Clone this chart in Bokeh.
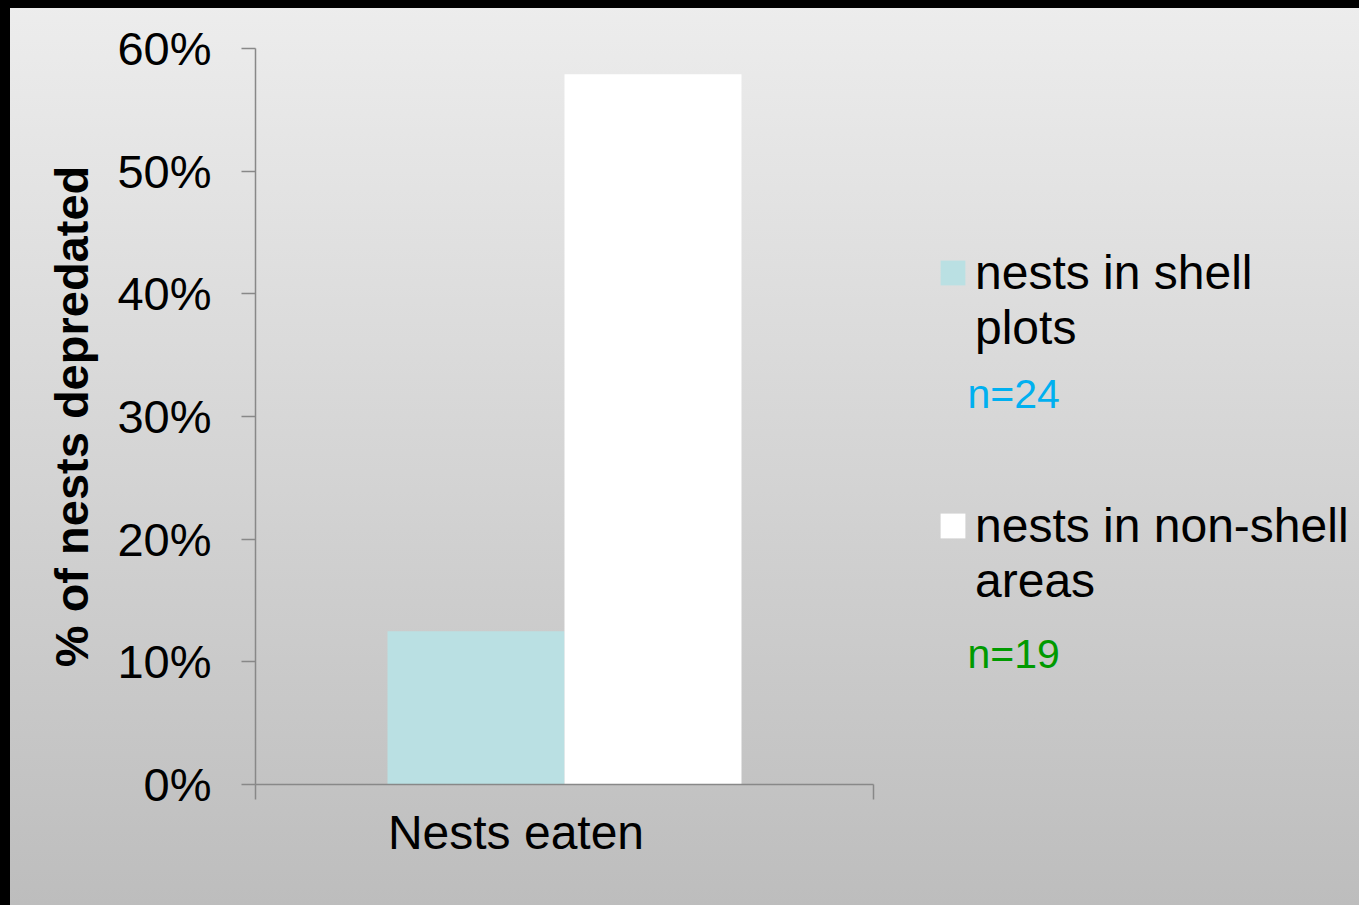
from bokeh.plotting import figure
from bokeh.models import (Range1d, LinearAxis, FixedTicker,
                          NumeralTickFormatter, Legend, LegendItem, Label, ColumnDataSource)
from bokeh.embed import file_html
from bokeh.resources import INLINE

# ---- data ----
categories = ["Nests eaten"]
shell_plots = [0.125]        # 3 of 24 nests
non_shell_areas = [0.579]    # 11 of 19 nests
series_labels = ["nests in shell\nplots", "nests in non-shell\nareas"]
n_labels = ["n=24", "n=19"]
y_ticks = [0.0, 0.1, 0.2, 0.3, 0.4, 0.5, 0.6]

FONT = "Liberation Sans"
W, H = 1359, 905
FL, FR, FT, FB = 255, 873, 48, 784
CAT_W = FR - FL                    # pixel width of one category slot
X_END = (W - FL) / CAT_W           # frame extends to the right edge (legend area)

bw = 0.2864
centers = [i + 0.5 for i in range(len(categories))]
src = ColumnDataSource(dict(xs=[c - bw / 2 for c in centers], xn=[c + bw / 2 for c in centers],
                            shell=shell_plots, nonshell=non_shell_areas))

p = figure(width=W, height=H, x_range=Range1d(0, X_END),
           y_range=Range1d(0, 0.6), output_backend="svg", toolbar_location=None,
           x_axis_location=None, y_axis_location=None,
           min_border_left=FL, min_border_right=0, min_border_top=FT, min_border_bottom=H - FB)
p.background_fill_color = None
p.border_fill_color = None
p.outline_line_color = None
p.xgrid.visible = False
p.ygrid.visible = False
p.styles = {"background": "linear-gradient(to bottom, #000 0px, #000 8px, transparent 8px), "
                          "linear-gradient(to right, #000 0px, #000 10px, transparent 10px), "
                          "linear-gradient(to bottom, #ededed 0%, #bdbdbd 100%)"}

r1 = p.vbar(x="xs", top="shell", width=bw, source=src, fill_color="#bae0e3", line_color=None)
r2 = p.vbar(x="xn", top="nonshell", width=bw, source=src, fill_color="#ffffff", line_color=None)

AX = "#888888"
yax = LinearAxis(ticker=FixedTicker(ticks=y_ticks), formatter=NumeralTickFormatter(format="0%"),
                 axis_label="% of nests depredated")
yax.axis_line_color = AX
yax.axis_line_width = 1.5
yax.major_tick_line_color = AX
yax.major_tick_line_width = 1.5
yax.major_tick_out = 14
yax.major_tick_in = 0
yax.minor_tick_line_color = None
yax.major_label_standoff = 30
yax.major_label_text_font = FONT
yax.major_label_text_font_size = "47px"
yax.major_label_text_color = "#000000"
yax.axis_label_text_font = FONT
yax.axis_label_text_font_size = "47px"
yax.axis_label_text_font_style = "bold"
yax.axis_label_text_color = "#000000"
yax.axis_label_standoff = 16
p.add_layout(yax, "left")

# category boundary ticks
bounds = [float(i) for i in range(len(categories) + 1)]
bax = LinearAxis(ticker=FixedTicker(ticks=bounds), bounds=(0, len(categories)))
bax.major_label_overrides = {b: "" for b in bounds}
bax.major_label_text_font_size = "0px"
bax.major_label_standoff = 0
bax.axis_line_color = AX
bax.axis_line_width = 1.5
bax.major_tick_line_color = AX
bax.major_tick_line_width = 1.5
bax.major_tick_out = 15
bax.major_tick_in = 0
bax.minor_tick_line_color = None
p.add_layout(bax, "below")

# category labels (left-aligned inside the category box in the original)
label_pos = [c - 0.0785 for c in centers]
cax = LinearAxis(ticker=FixedTicker(ticks=label_pos))
cax.major_label_overrides = {c: lab for c, lab in zip(label_pos, categories)}
cax.axis_line_color = None
cax.major_tick_line_color = None
cax.minor_tick_line_color = None
cax.major_tick_out = 0
cax.major_tick_in = 0
cax.major_label_standoff = 6
cax.major_label_text_font = FONT
cax.major_label_text_font_size = "48px"
cax.major_label_text_color = "#000000"
p.add_layout(cax, "below")

# a blank first line keeps the swatch level with the first text line, as in the original
legend = Legend(items=[LegendItem(label=" \n" + series_labels[0], renderers=[r1]),
                       LegendItem(label=" \n" + series_labels[1], renderers=[r2])],
                location=(682, 176))
legend.glyph_width = 31
legend.glyph_height = 31
legend.label_standoff = 7
legend.spacing = 88
legend.padding = 0
legend.margin = 0
legend.border_line_color = None
legend.background_fill_alpha = 0
legend.label_text_font = FONT
legend.label_text_font_size = "48px"
legend.label_text_color = "#000000"
p.add_layout(legend)

n_colors = ["#00b0f0", "#009a00"]
n_baselines = [393, 653]
for txt, col, yb in zip(n_labels, n_colors, n_baselines):
    p.add_layout(Label(x=967 - FL, y=FB - yb, x_units="screen", y_units="screen", text=txt,
                       text_font=FONT, text_font_size="41px", text_color=col,
                       text_baseline="alphabetic"))

open("out.html", "w").write(file_html(p, INLINE))
